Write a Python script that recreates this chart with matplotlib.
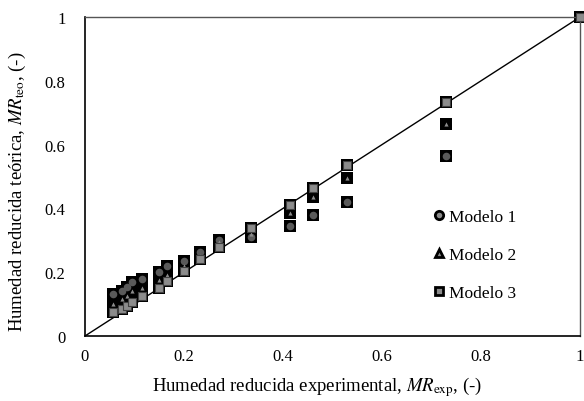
import matplotlib
matplotlib.use("Agg")
import matplotlib.pyplot as plt
from matplotlib.lines import Line2D

plt.rcParams['font.family'] = ['Liberation Serif', 'DejaVu Serif']
plt.rcParams['mathtext.fontset'] = 'stix'

# humedad reducida experimental y teórica de los tres modelos
mr_exp = [0.057, 0.075, 0.085, 0.095, 0.115, 0.15, 0.165, 0.2, 0.232,
          0.27, 0.335, 0.415, 0.46, 0.53, 0.73, 1.0]
modelo1 = [0.132, 0.141, 0.153, 0.169, 0.18, 0.2, 0.218, 0.235, 0.262,
           0.30, 0.31, 0.345, 0.38, 0.42, 0.565, 1.0]
modelo2 = [0.10, 0.115, 0.125, 0.14, 0.15, 0.175, 0.19, 0.22, 0.25,
           0.295, 0.32, 0.385, 0.435, 0.495, 0.665, 1.0]
modelo3 = [0.075, 0.085, 0.094, 0.107, 0.126, 0.15, 0.172, 0.204, 0.241,
           0.28, 0.34, 0.41, 0.465, 0.535, 0.735, 1.0]

labels = ['Modelo 1', 'Modelo 2', 'Modelo 3']
markers = ['o', '^', 's']
gris = '#8c8c8c'

fig = plt.figure(figsize=(5.84, 4.02), dpi=100)
ax = fig.add_axes([0.1455, 0.1617, 0.8475, 0.7933])

ax.plot([0, 1], [0, 1], color='black', lw=1, zorder=1)

for serie, mk in zip([modelo1, modelo2, modelo3], markers):
    # fondo negro cuadrado de cada punto
    ax.scatter(mr_exp, serie, marker='s', s=66, color='black',
               linewidths=0, zorder=2, clip_on=False)
    if mk == 's':
        ax.scatter(mr_exp, serie, marker='s', s=26, color=gris,
                   edgecolors='#404040', linewidths=0.8, zorder=3, clip_on=False)
    elif mk == '^':
        ax.scatter(mr_exp, serie, marker='^', s=9, color=gris,
                   linewidths=0, zorder=3, clip_on=False)
    else:
        ax.scatter(mr_exp, serie, marker='o', s=30, color='#5a5a5a',
                   linewidths=0, zorder=3, clip_on=False)

ax.set_xlim(0, 1)
ax.set_ylim(0, 1)
ax.set_xticks([0, 0.2, 0.4, 0.6, 0.8, 1])
ax.set_yticks([0, 0.2, 0.4, 0.6, 0.8, 1])
ax.set_xticklabels(['0', '0.2', '0.4', '0.6', '0.8', '1'])
ax.set_yticklabels(['0', '0.2', '0.4', '0.6', '0.8', '1'])
ax.tick_params(length=0, labelsize=12, pad=9)
ax.tick_params(axis='y', pad=14)

for s in ['left', 'bottom']:
    ax.spines[s].set_linewidth(1.2)
for s in ['top', 'right']:
    ax.spines[s].set_color('#555555')
    ax.spines[s].set_linewidth(1)

ax.set_xlabel(r'Humedad reducida experimental, $\mathit{MR}_{\mathrm{exp}}$, (-)',
              fontsize=13.5, labelpad=7)
ax.set_ylabel(r'Humedad reducida teórica, $\mathit{MR}_{\mathrm{teo}}$, (-)',
              fontsize=13.5, labelpad=12)
ax.xaxis.label.set_x(0.47)
ax.yaxis.label.set_y(0.455)

handles = [Line2D([], [], linestyle='none', marker=m, markersize=6,
                  markerfacecolor=gris, markeredgecolor='black',
                  markeredgewidth=2) for m in markers]
ax.legend(handles, labels, loc='upper left', bbox_to_anchor=(0.69, 0.42),
          frameon=False, fontsize=12.5, handlelength=0.6, handletextpad=0.3,
          labelspacing=1.25, borderaxespad=0)

fig.savefig('out.png', dpi=100)
